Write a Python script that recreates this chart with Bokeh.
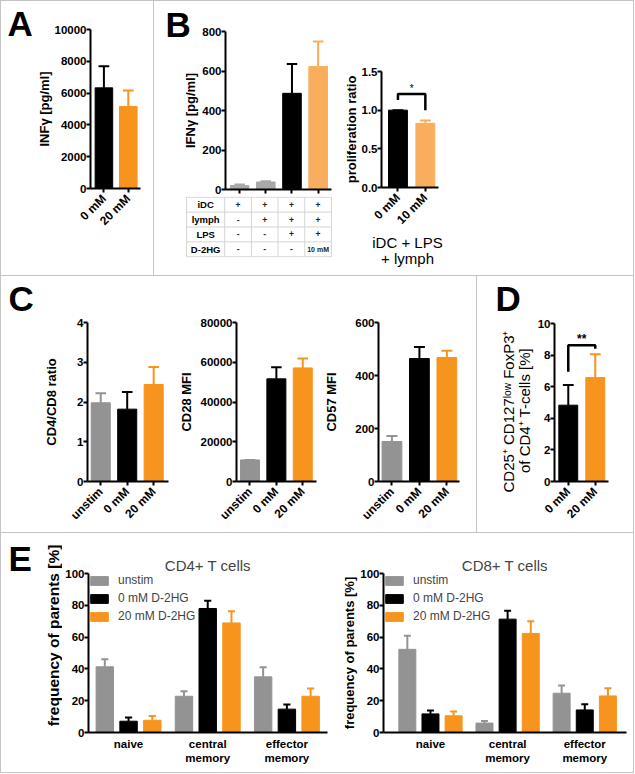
import math
from bokeh.plotting import figure
from bokeh.models import (Range1d, FixedTicker, NumeralTickFormatter, Legend,
                          LegendItem, ColumnDataSource, Div)
from bokeh.layouts import row, column
from bokeh.embed import file_html
from bokeh.resources import INLINE
from bokeh.core.properties import value

FONT = "Liberation Sans"
GRAY = "#939393"
LGRAY = "#A9A9A9"
BLACK = "#000000"
ORANGE = "#F7941D"
LORANGE = "#F9AE5E"
SEP = "#C4C4C4"
TABLE_LINE = "#D4D4D4"

# ---------------- data ----------------
a_cats = ["0 mM", "20 mM"]
a_vals = [6330, 5160]
a_errs = [1360, 1000]
a_yticks = [0, 2000, 4000, 6000, 8000, 10000]

b_vals = [20, 38, 487, 623]
b_errs = [5, 4, 148, 127]
b_yticks = [0, 200, 400, 600, 800]
b_rows = ["iDC", "lymph", "LPS", "D-2HG"]
b_cells = [["+", "+", "+", "+"],
           ["-", "+", "+", "+"],
           ["-", "-", "+", "+"],
           ["-", "-", "-", "10 mM"]]

prolif_cats = ["0 mM", "10 mM"]
prolif_vals = [1.0, 0.83]
prolif_errs = [0.0, 0.035]
prolif_yticks = [0.0, 0.5, 1.0, 1.5]
prolif_bracket = [1.13, 1.21, 1.21, 1.0]
prolif_sig = "*"
prolif_sig_y = 1.275
prolif_xlabel = ["iDC + LPS", "+ lymph"]

c_cats = ["unstim", "0 mM", "20 mM"]
ratio_vals = [1.98, 1.82, 2.44]
ratio_errs = [0.24, 0.43, 0.44]
ratio_yticks = [0, 1, 2, 3, 4]
cd28_vals = [10850, 51650, 57150]
cd28_errs = [0, 5850, 4700]
cd28_yticks = [0, 20000, 40000, 60000, 80000]
cd57_vals = [151, 464, 468]
cd57_errs = [21, 44, 25]
cd57_yticks = [0, 200, 400, 600]

d_cats = ["0 mM", "20 mM"]
d_vals = [4.83, 6.58]
d_errs = [1.28, 1.48]
d_yticks = [0, 2, 4, 6, 8, 10]
d_bracket = [6.94, 8.63, 8.63, 8.40]
d_sig = "**"
d_sig_y = 9.04
d_ylabel = ["CD25\u207a CD127\u02e1\u1d52\u02b7 FoxP3\u207a", "of CD4\u207a T-cells [%]"]

e_groups = ["naive", "central\nmemory", "effector\nmemory"]
e_series = ["unstim", "0 mM D-2HG", "20 mM D-2HG"]
e_yticks = [0, 20, 40, 60, 80, 100]
e_ylabel = "frequency of parents [%]"
cd4_vals = [[41.3, 22.8, 35.0], [7.1, 78.0, 14.7], [7.7, 68.9, 22.8]]
cd4_errs = [[4.8, 3.2, 6.0], [2.3, 4.8, 2.9], [2.6, 7.4, 4.9]]
cd8_vals = [[52.3, 5.9, 24.7], [11.7, 71.3, 14.2], [10.5, 62.3, 23.0]]
cd8_errs = [[8.6, 1.4, 4.8], [2.1, 5.2, 3.6], [2.7, 7.6, 4.9]]


# ---------------- helpers ----------------
def make_fig(x0, y0, w, h, fl, fr, ft, fb, xr, yr, axes=True):
    p = figure(width=w, height=h, x_range=Range1d(*xr), y_range=Range1d(*yr),
               output_backend="svg", toolbar_location=None,
               min_border_left=fl - x0, min_border_right=x0 + w - fr,
               min_border_top=ft - y0, min_border_bottom=y0 + h - fb,
               x_axis_location="below" if axes else None,
               y_axis_location="left" if axes else None)
    p.outline_line_color = None
    p.xgrid.visible = False
    p.ygrid.visible = False
    p.border_fill_color = "white"
    p.background_fill_color = "white"
    for ax in p.axis:
        ax.axis_line_width = 2
        ax.axis_line_color = "black"
        ax.major_tick_line_width = 2
        ax.major_tick_line_color = "black"
        ax.major_tick_out = 4
        ax.major_tick_in = 0
        ax.minor_tick_line_color = None
        ax.major_label_text_font = FONT
        ax.major_label_text_font_style = "bold"
        ax.major_label_text_color = "black"
        ax.axis_label_text_font = FONT
        ax.axis_label_text_font_style = "bold"
        ax.axis_label_text_font_size = "13px"
        ax.axis_label_text_color = "black"
        ax.axis_label_standoff = 0
    for ax in p.xaxis:
        ax.major_label_text_font_size = "12px"
        ax.major_label_standoff = 4
    for ax in p.yaxis:
        ax.major_label_text_font_size = "11.5px"
        ax.major_label_standoff = 0
    return p


def text_fig(x0, y0, w, h):
    # a blank canvas whose data coordinates are the picture's pixel coordinates
    p = figure(width=w, height=h, x_range=Range1d(x0, x0 + w), y_range=Range1d(y0 + h, y0),
               output_backend="svg", toolbar_location=None, min_border=0,
               x_axis_location=None, y_axis_location=None)
    p.outline_line_color = None
    p.xgrid.visible = False
    p.ygrid.visible = False
    p.title.visible = False
    p.border_fill_color = "white"
    p.background_fill_color = "white"
    return p


def put(p, x, y, text, size, style="normal", angle=0.0, align="left", baseline="middle"):
    p.text(x=[x], y=[y], text=[text], text_font=value(FONT), text_font_size=size,
           text_font_style=style, angle=angle, text_align=align, text_baseline=baseline,
           text_color="black")


def set_x(p, cats, rotate=True):
    p.xaxis.ticker = FixedTicker(ticks=list(range(len(cats))))
    p.xaxis.major_label_overrides = {i: c for i, c in enumerate(cats)}
    if rotate:
        p.xaxis.major_label_orientation = math.pi / 4


def set_y(p, ticks, label=None, standoff=0, fmt="0"):
    p.yaxis.ticker = FixedTicker(ticks=ticks)
    p.yaxis.formatter = NumeralTickFormatter(format=fmt)
    if label is not None:
        p.yaxis.axis_label = label
        p.yaxis.axis_label_standoff = standoff


def bars(p, xs, vals, errs, colors, width, cap):
    src = ColumnDataSource(dict(x=xs, top=vals, color=colors))
    r = p.vbar(x="x", top="top", bottom=0, width=width, fill_color="color",
               line_color="color", source=src)
    tops = [v + e for v, e in zip(vals, errs)]
    p.segment(x0=xs, y0=vals, x1=xs, y1=tops, line_color=colors, line_width=2)
    p.segment(x0=[x - cap for x in xs], y0=tops, x1=[x + cap for x in xs], y1=tops,
              line_color=colors, line_width=2)
    return r


def vline(h):
    return Div(text="", width=1, height=h, margin=0, styles={"background-color": SEP})


def hline(w):
    return Div(text="", width=w, height=1, margin=0, styles={"background-color": SEP})


def W(f):
    return column(f)


# ---------------- panel A ----------------
tA = text_fig(1, 1, 32, 274)
put(tA, 7, 22.5, "A", "35px", "bold")
pA = make_fig(33, 1, 120, 274, 87, 140, 29, 188, (-0.55, 1.5), (0, 10000))
set_x(pA, a_cats)
set_y(pA, a_yticks, "INF\u03b3 [pg/ml]", 0)
bars(pA, list(range(len(a_vals))), a_vals, a_errs, [BLACK, ORANGE], 0.72, 0.22)

# ---------------- panel B ----------------
tB = text_fig(154, 1, 45, 195)
put(tB, 165, 23.5, "B", "35px", "bold")
put(tB, 190, 110, "IFN\u03b3 [pg/ml]", "13px", "bold", angle=math.pi / 2, align="center")
pB = make_fig(199, 1, 141, 195, 223, 331, 31, 189, (-0.54, 3.51), (0, 800))
set_x(pB, ["", "", "", ""], rotate=False)
pB.xaxis.major_label_text_font_size = "0px"
pB.xaxis.major_label_standoff = 0
set_y(pB, b_yticks)
bars(pB, list(range(len(b_vals))), b_vals, b_errs, [LGRAY, LGRAY, BLACK, LORANGE], 0.71, 0.2)

pT = make_fig(154, 196, 186, 79, 185, 332, 196, 257, (-1.97, 3.54), (-0.05, 4.05), axes=False)
n_rows = len(b_rows)
n_cols = len(b_cells[0])
col_edges = [-1.93] + [c - 0.5 for c in range(n_cols + 1)]
pT.segment(x0=[col_edges[0]] * (n_rows + 1), y0=list(range(n_rows + 1)),
           x1=[col_edges[-1]] * (n_rows + 1), y1=list(range(n_rows + 1)),
           line_color=TABLE_LINE, line_width=1)
pT.segment(x0=col_edges, y0=[0] * len(col_edges), x1=col_edges, y1=[n_rows] * len(col_edges),
           line_color=TABLE_LINE, line_width=1)
pT.text(x=[(col_edges[0] + col_edges[1]) / 2] * n_rows,
        y=[n_rows - 0.5 - i for i in range(n_rows)], text=b_rows,
        text_font=value(FONT), text_font_style="bold", text_font_size="9.5px",
        text_align="center", text_baseline="middle", text_color="black")
cx, cy, ct, cs = [], [], [], []
for i, rw in enumerate(b_cells):
    for j, c in enumerate(rw):
        cx.append(j)
        cy.append(n_rows - 0.5 - i)
        ct.append(c)
        cs.append("7px" if len(c) > 1 else "8.5px")
pT.text(x=cx, y=cy, text=ct, text_font=value(FONT), text_font_style="bold",
        text_font_size=cs, text_align="center", text_baseline="middle", text_color="#222222")

pP = make_fig(340, 1, 293, 233, 381, 438, 71, 189, (-0.6, 1.48), (0, 1.5))
set_x(pP, prolif_cats)
set_y(pP, prolif_yticks, "proliferation ratio", 0, fmt="0.0")
bars(pP, list(range(len(prolif_vals))), prolif_vals, prolif_errs, [BLACK, LORANGE], 0.69, 0.2)
pP.line(x=[0, 0, 1, 1], y=prolif_bracket, line_color="black", line_width=2.5)
pP.text(x=[0.5], y=[prolif_sig_y], text=[prolif_sig], text_font=value(FONT),
        text_font_size="10px", text_align="center", text_baseline="middle",
        text_color="black")
tP = text_fig(340, 234, 293, 41)
put(tP, 407, 241.7, prolif_xlabel[0], "15px", align="center")
put(tP, 407, 258.3, prolif_xlabel[1], "15px", align="center")

# ---------------- panel C ----------------
c_colors = [GRAY, BLACK, ORANGE]
tC = text_fig(1, 276, 32, 256)
put(tC, 8, 297.5, "C", "35px", "bold")
pC1 = make_fig(33, 276, 139, 256, 87, 168, 322, 481, (-0.5, 2.56), (0, 4))
set_x(pC1, c_cats)
set_y(pC1, ratio_yticks, "CD4/CD8 ratio", 15)
bars(pC1, [0, 1, 2], ratio_vals, ratio_errs, c_colors, 0.72, 0.2)

pC2 = make_fig(172, 276, 148, 256, 236, 316, 322, 481, (-0.51, 2.52), (0, 80000))
set_x(pC2, c_cats)
set_y(pC2, cd28_yticks, "CD28 MFI", 4)
bars(pC2, [0, 1, 2], cd28_vals, cd28_errs, c_colors, 0.72, 0.2)

pC3 = make_fig(320, 276, 156, 256, 378, 459, 322, 481, (-0.49, 2.46), (0, 600))
set_x(pC3, c_cats)
set_y(pC3, cd57_yticks, "CD57 MFI", 13)
bars(pC3, [0, 1, 2], cd57_vals, cd57_errs, c_colors, 0.72, 0.2)

# ---------------- panel D ----------------
tD = text_fig(477, 276, 57, 256)
put(tD, 495, 297.5, "D", "35px", "bold")
put(tD, 508, 411, d_ylabel[0], "15px", angle=math.pi / 2, align="center")
put(tD, 524, 410, d_ylabel[1], "15px", angle=math.pi / 2, align="center")
pD = make_fig(534, 276, 99, 256, 554, 608, 323, 481, (-0.51, 1.49), (0, 10))
set_x(pD, d_cats)
set_y(pD, d_yticks)
bars(pD, [0, 1], d_vals, d_errs, [BLACK, ORANGE], 0.7, 0.2)
pD.line(x=[0, 0, 1, 1], y=d_bracket, line_color="black", line_width=2.5)
pD.text(x=[0.5], y=[d_sig_y], text=[d_sig], text_font=value(FONT), text_font_size="12px",
        text_font_style="bold", text_align="center", text_baseline="middle",
        text_color="black")


# ---------------- panel E ----------------
def e_panel(x0, w, fl, fr, xr, vals, errs, title):
    p = make_fig(x0, 533, w, 239, fl, fr, 573, 732, xr, (0, 100))
    set_x(p, e_groups, rotate=False)
    p.xaxis.major_tick_out = 0
    p.xaxis.major_tick_line_color = None
    p.xaxis.major_label_standoff = 5
    p.xaxis.major_label_text_font_size = "11.5px"
    set_y(p, e_yticks)
    p.title.text = title
    p.title.align = "center"
    p.title.text_font = FONT
    p.title.text_font_size = "15px"
    p.title.text_font_style = "normal"
    p.title.standoff = 0
    items = []
    for s, (name, col) in enumerate(zip(e_series, c_colors)):
        xs = [g + (s - 1) * 0.3 for g in range(len(e_groups))]
        r = bars(p, xs, vals[s], errs[s], [col] * len(xs), 0.22, 0.045)
        items.append(LegendItem(label=name, renderers=[r]))
    leg = Legend(items=items, location="top_left", margin=0, padding=0, spacing=4,
                 glyph_width=22, glyph_height=11, label_height=14, label_standoff=8,
                 label_text_font=FONT, label_text_font_size="12px",
                 background_fill_alpha=0, border_line_alpha=0)
    p.add_layout(leg)
    return p


tE = text_fig(1, 533, 61, 239)
put(tE, 8, 557.5, "E", "35px", "bold")
put(tE, 53, 635, e_ylabel, "15.5px", "bold", angle=math.pi / 2, align="center")
pE1 = e_panel(62, 268, 87, 327, (-0.506, 2.513), cd4_vals, cd4_errs, "CD4+ T cells")
pE2 = e_panel(330, 303, 383, 626, (-0.609, 2.541), cd8_vals, cd8_errs, "CD8+ T cells")
pE2.yaxis.axis_label = e_ylabel
pE2.yaxis.axis_label_standoff = 0

# ---------------- layout ----------------
top = row(vline(274), W(tA), W(pA), vline(274),
          column(row(W(tB), W(pB)), W(pT)),
          column(W(pP), W(tP)),
          vline(274))
mid = row(vline(256), W(tC), W(pC1), W(pC2), W(pC3), vline(256), W(tD), W(pD), vline(256))
bot = row(vline(239), W(tE), W(pE1), W(pE2), vline(239))
layout = column(hline(634), top, hline(634), mid, hline(634), bot, hline(634))

open("out.html", "w").write(file_html(layout, INLINE, "chart"))
